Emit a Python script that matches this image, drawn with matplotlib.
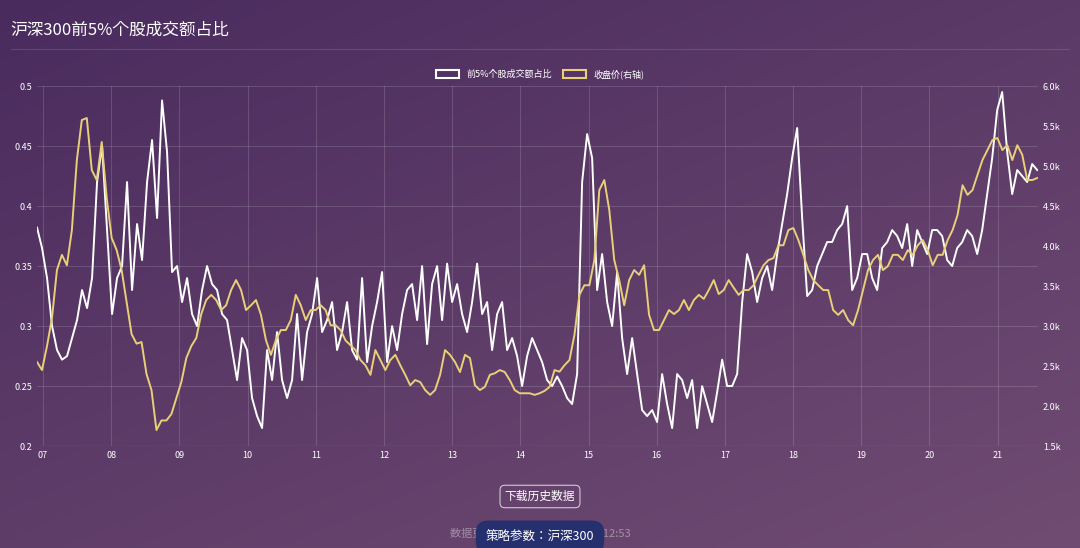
import numpy as np
import matplotlib
matplotlib.use("Agg")
import matplotlib.pyplot as plt
from matplotlib import font_manager
from matplotlib.patches import Patch

names = {f.name for f in font_manager.fontManager.ttflist}
cjk = [n for n in ['Noto Sans CJK SC', 'Noto Sans CJK JP', 'Noto Sans SC', 'Noto Sans CJK TC', 'Noto Sans CJK KR'] if n in names]
plt.rcParams['font.family'] = cjk + ['DejaVu Sans']

ratio = [0.382,0.365,0.34,0.3,0.28,0.272,0.275,0.29,0.305,0.33,0.315,0.34,0.42,0.45,0.38,0.31,0.34,0.35,0.42,0.33,
0.385,0.355,0.42,0.455,0.39,0.488,0.445,0.345,0.35,0.32,0.34,0.31,0.3,0.33,0.35,0.335,0.33,0.31,0.305,0.28,
0.255,0.29,0.28,0.24,0.225,0.215,0.28,0.255,0.295,0.255,0.24,0.255,0.31,0.255,0.295,0.31,0.34,0.295,0.305,0.32,
0.28,0.295,0.32,0.28,0.272,0.34,0.27,0.3,0.32,0.345,0.27,0.3,0.28,0.31,0.33,0.335,0.305,0.35,0.285,0.335,
0.35,0.305,0.352,0.32,0.335,0.31,0.295,0.32,0.352,0.31,0.32,0.28,0.31,0.32,0.28,0.29,0.275,0.25,0.275,0.29,
0.28,0.27,0.255,0.25,0.258,0.25,0.24,0.235,0.26,0.42,0.46,0.44,0.33,0.36,0.32,0.3,0.345,0.29,0.26,0.29,
0.26,0.23,0.225,0.23,0.22,0.26,0.235,0.215,0.26,0.255,0.24,0.255,0.215,0.25,0.235,0.22,0.245,0.272,0.25,0.25,
0.26,0.32,0.36,0.345,0.32,0.34,0.35,0.33,0.36,0.385,0.41,0.44,0.465,0.39,0.325,0.33,0.35,0.36,0.37,0.37,
0.38,0.385,0.4,0.33,0.34,0.36,0.36,0.34,0.33,0.365,0.37,0.38,0.375,0.365,0.385,0.35,0.38,0.37,0.36,0.38,
0.38,0.375,0.355,0.35,0.365,0.37,0.38,0.375,0.36,0.38,0.41,0.44,0.48,0.495,0.445,0.41,0.43,0.425,0.42,0.435,0.43]

price = [2550,2450,2750,3100,3700,3890,3760,4200,5075,5575,5600,4950,4825,5300,4600,4100,3950,3700,3300,2900,
2780,2800,2400,2200,1700,1820,1820,1900,2100,2300,2600,2750,2850,3150,3325,3390,3325,3200,3260,3450,
3575,3450,3200,3260,3325,3140,2825,2640,2825,2950,2950,3075,3390,3260,3075,3200,3200,3260,3200,3010,
3010,2950,2820,2760,2700,2575,2510,2390,2700,2575,2450,2575,2640,2510,2390,2260,2325,2300,2200,2140,
2200,2390,2700,2640,2550,2425,2640,2600,2260,2200,2240,2390,2410,2450,2425,2325,2200,2160,2160,2160,
2140,2160,2190,2240,2450,2430,2510,2575,2890,3390,3510,3510,3825,4700,4825,4450,3825,3575,3260,3575,
3700,3640,3760,3140,2950,2950,3075,3200,3150,3200,3325,3200,3325,3390,3340,3450,3575,3400,3450,3575,
3480,3390,3450,3450,3510,3640,3760,3825,3850,4010,4010,4200,4225,4075,3890,3700,3575,3510,3450,3450,
3200,3140,3200,3075,3010,3200,3450,3700,3825,3890,3700,3750,3890,3890,3825,3950,3890,4010,4075,3950,
3760,3890,3890,4075,4200,4390,4760,4640,4700,4890,5075,5200,5325,5350,5200,5260,5075,5260,5140,4825,4825,4850]

year_ticks = list(range(2007, 2022))
year_labels = ['%02d' % (y % 100) for y in year_ticks]
left_ticks = [0.2, 0.25, 0.3, 0.35, 0.4, 0.45, 0.5]
right_ticks = [1500, 2000, 2500, 3000, 3500, 4000, 4500, 5000, 5500, 6000]

fig = plt.figure(figsize=(10.8, 5.48), dpi=100)
bg = fig.add_axes([0, 0, 1, 1], zorder=-10)
gx, gy = np.meshgrid(np.linspace(0, 1, 200), np.linspace(0, 1, 200))
g = (gx * 0.45 + gy * 0.55)
c1 = np.array([0x4a, 0x2b, 0x5e]) / 255
c2 = np.array([0x70, 0x4c, 0x72]) / 255
img = c1[None, None, :] * (1 - g[..., None]) + c2[None, None, :] * g[..., None]
bg.imshow(img, aspect='auto', extent=[0, 1, 0, 1], origin='upper')
bg.axis('off')
bg.set_xlim(0, 1); bg.set_ylim(0, 1)
fig.text(0.01, 0.945, '沪深300前5%个股成交额占比', color='white', fontsize=12, va='center')
bg.plot([0.01, 0.99], [0.911, 0.911], color='white', alpha=0.12, lw=0.8)

ax = fig.add_axes([0.0343, 0.186, 0.9267, 0.657])
ax.patch.set_alpha(0)
x1 = np.linspace(2006.912, 2021.58, len(ratio))
x2 = np.linspace(2006.912, 2021.58, len(price))
ax.plot(x1, ratio, color='white', lw=1.4, zorder=3)
ax.set_ylim(0.2, 0.5)
ax.set_xlim(2006.912, 2021.59)
ax.set_yticks(left_ticks)
ax.set_yticklabels([('%g' % v) for v in left_ticks])
ax.set_xticks(year_ticks)
ax.set_xticklabels(year_labels)
ax.grid(True, color='white', alpha=0.15, lw=0.7)
for s in ax.spines.values():
    s.set_visible(False)
ax.tick_params(colors='white', labelsize=6.5, length=0)
ax2 = ax.twinx()
ax2.plot(x2, price, color='#e8cf78', lw=1.4)
ax2.set_ylim(1500, 6000)
ax2.set_yticks(right_ticks)
ax2.set_yticklabels(['%.1fk' % (v / 1000) for v in right_ticks])
ax2.tick_params(colors='white', labelsize=6.5, length=0)
for s in ax2.spines.values():
    s.set_visible(False)
ax.axhline(0.2, color='white', alpha=0.45, lw=0.8)
handles = [Patch(fc='none', ec='white', lw=1.5, label='前5%个股成交额占比'),
           Patch(fc='none', ec='#e8cf78', lw=1.5, label='收盘价(右轴)')]
fig.legend(handles=handles, loc='center', bbox_to_anchor=(0.5, 0.865), ncol=2, frameon=False,
           fontsize=6.5, labelcolor='white', handlelength=2.6, handleheight=0.9, columnspacing=1.2)
fig.text(0.5, 0.094, '下载历史数据', color='white', fontsize=8.5, ha='center', va='center',
         bbox=dict(boxstyle='round,pad=0.4', fc='none', ec=(1, 1, 1, 0.7), lw=0.8))
fig.text(0.5, 0.027, '数据更新时间：2021-08-01 12:12:53', color=(1, 1, 1, 0.4), fontsize=8, ha='center', va='center', zorder=1)
fig.text(0.5, 0.02, '策略参数：沪深300', color='white', fontsize=9, ha='center', va='center', zorder=5,
         bbox=dict(boxstyle='round,pad=0.8,rounding_size=1.0', fc='#27306e', ec='none'))
fig.savefig('out.png', dpi=100)
